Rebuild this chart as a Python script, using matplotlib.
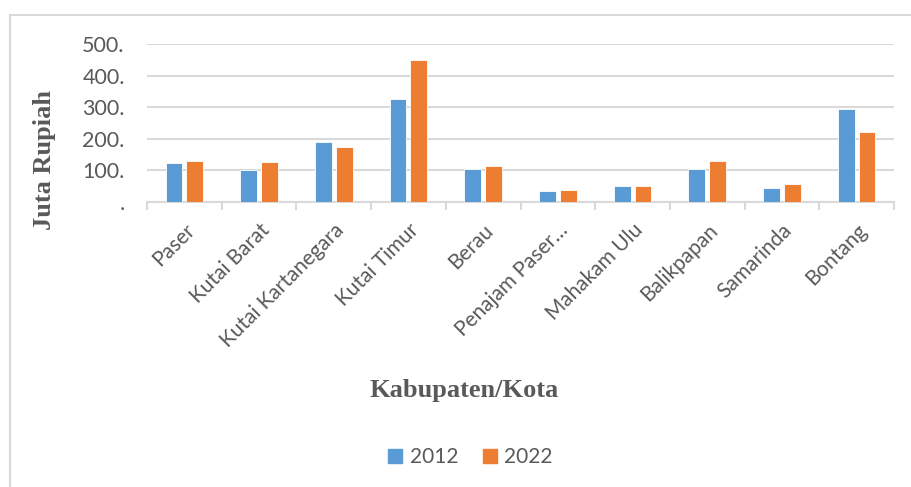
import matplotlib
matplotlib.use('Agg')
import matplotlib.pyplot as plt
import numpy as np
from matplotlib.lines import Line2D

# data
regions = ['Paser', 'Kutai Barat', 'Kutai Kartanegara', 'Kutai Timur', 'Berau',
           'Penajam Paser…', 'Mahakam Ulu', 'Balikpapan', 'Samarinda', 'Bontang']
v2012 = [124, 101, 191, 325, 103, 35, 52, 103, 43, 295]
v2022 = [130, 127, 174, 448, 114, 39, 52, 129, 57, 221]
yticks = [0, 100, 200, 300, 400, 500]
ytick_labels = ['.', '100.', '200.', '300.', '400.', '500.']

BLUE = '#5B9BD5'
ORANGE = '#ED7D31'
GRID = '#D9D9D9'
TXT = '#595959'
W, H = 911, 487

fig = plt.figure(figsize=(W / 100, H / 100), dpi=100)
fig.patch.set_facecolor('white')
ax = fig.add_axes([147 / W, 1 - 202 / H, (894 - 147) / W, (202 - 44) / H])

x = np.arange(len(regions))
bw = 0.225
ax.bar(x - bw / 2 - 0.027, v2012, bw, color=BLUE, edgecolor='white', lw=0.6, zorder=3, label='2012')
ax.bar(x + bw / 2 + 0.027, v2022, bw, color=ORANGE, edgecolor='white', lw=0.6, zorder=3, label='2022')

ax.set_xlim(-0.5, len(regions) - 0.5)
ax.set_ylim(0, 500)
ax.set_yticks(yticks)
ax.set_yticklabels(ytick_labels, fontfamily='Lato', fontsize=15.5, color=TXT)
ax.tick_params(axis='y', length=0, pad=16)
ax.yaxis.grid(True, color=GRID, lw=1.5, zorder=0)
ax.set_axisbelow(True)

ax.set_xticks(x)
ax.set_xticklabels(regions, rotation=45, ha='right', rotation_mode='anchor',
                   fontfamily='Lato', fontsize=15, color=TXT)
ax.tick_params(axis='x', which='major', length=0, pad=13)
ax.set_xticks(np.arange(-0.5, len(regions)), minor=True)
ax.tick_params(axis='x', which='minor', length=6, width=1.5, color=GRID)

for s in ['top', 'right', 'left']:
    ax.spines[s].set_visible(False)
ax.spines['bottom'].set_color(GRID)
ax.spines['bottom'].set_linewidth(1.5)

fig.text(45 / W, 1 - 160 / H, 'Juta Rupiah', rotation=90, ha='center', va='center',
         fontfamily='Liberation Serif', fontweight='bold', fontsize=19, color=TXT)
fig.text(464 / W, 1 - 390 / H, 'Kabupaten/Kota', ha='center', va='center',
         fontfamily='Liberation Serif', fontweight='bold', fontsize=19, color=TXT)

handles = [Line2D([], [], marker='s', ls='', color=BLUE, markersize=10),
           Line2D([], [], marker='s', ls='', color=ORANGE, markersize=10)]
leg = fig.legend(handles, ['2012', '2022'], loc='center', bbox_to_anchor=(470 / W, 1 - 457 / H),
                 ncol=2, frameon=False, handlelength=0.8, handletextpad=0.3, columnspacing=1.1,
                 prop={'family': 'Lato', 'size': 15})
for t in leg.get_texts():
    t.set_color(TXT)

# outer chart border
fig.add_artist(Line2D([10 / W, 10 / W], [0, 1 - 15 / H], transform=fig.transFigure, color=GRID, lw=1.5))
fig.add_artist(Line2D([10 / W, 1], [1 - 15 / H, 1 - 15 / H], transform=fig.transFigure, color=GRID, lw=1.5))

fig.savefig('out.png', dpi=100, facecolor='white')
